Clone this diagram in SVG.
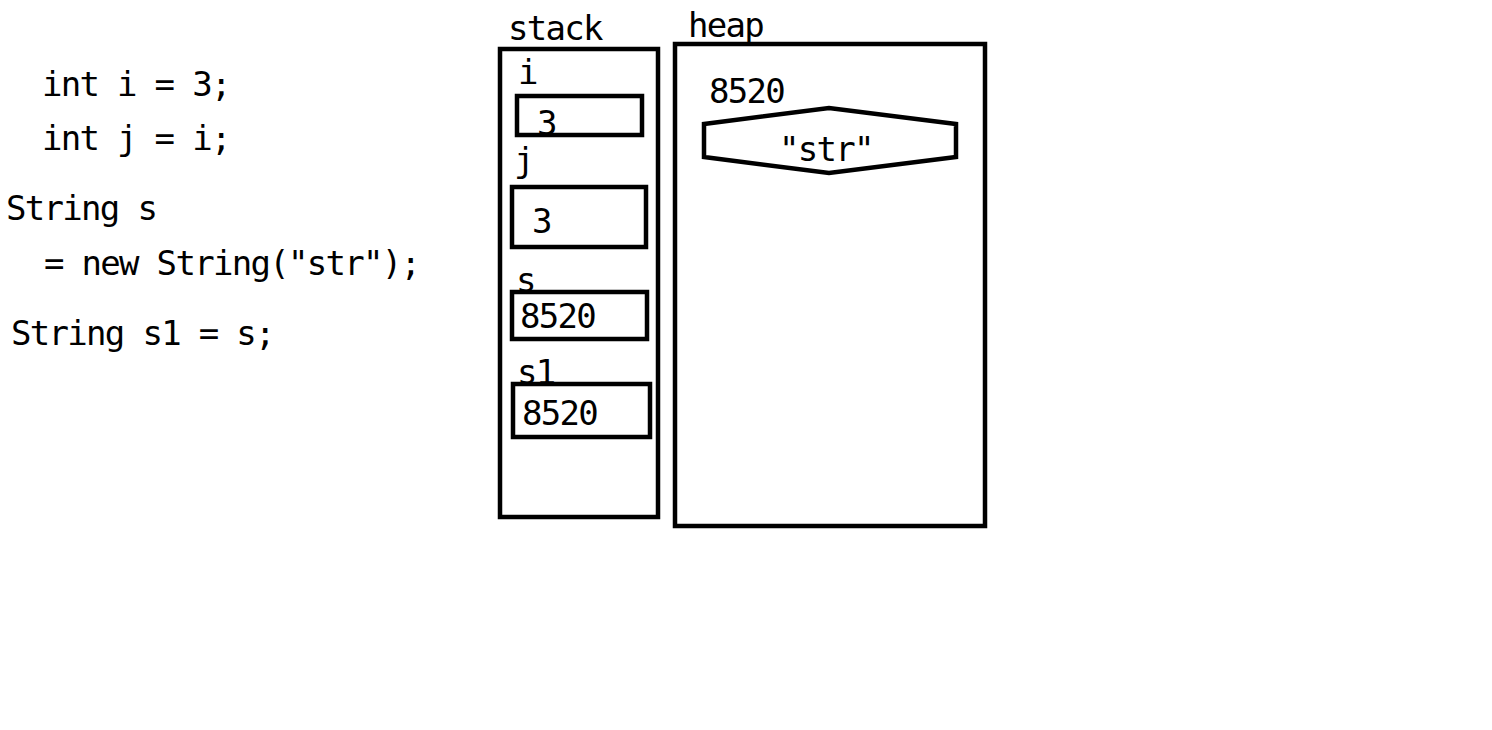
<svg xmlns="http://www.w3.org/2000/svg" width="1492" height="730" viewBox="0 0 1492 730">
<style>
text{font-family:"DejaVu Sans Mono","Liberation Mono",monospace;font-size:34px;letter-spacing:-1.7px;fill:#000}
.b{fill:none;stroke:#000;stroke-width:4.5}
</style>
<rect width="1492" height="730" fill="#fff"/>
<g id="code">
<text x="42" y="96">int i = 3;</text>
<text x="42" y="150">int j = i;</text>
<text x="6" y="220">String s</text>
<text x="44" y="275">= new String("str");</text>
<text x="11" y="345">String s1 = s;</text>
</g>
<g id="stack">
<text x="508" y="40">stack</text>
<rect class="b" x="500" y="49" width="158" height="468"/>
</g>
<g id="var-i">
<text x="518" y="84">i</text>
<text x="537" y="135">3</text>
<rect class="b" x="517" y="96" width="125" height="39"/>
</g>
<g id="var-j">
<text x="514" y="172">j</text>
<text x="532" y="233">3</text>
<rect class="b" x="512" y="187" width="134" height="60"/>
</g>
<g id="var-s">
<text x="516" y="292">s</text>
<rect class="b" x="512" y="292" width="135" height="47"/>
<text x="520" y="328">8520</text>
</g>
<g id="var-s1">
<text x="517" y="384">s1</text>
<rect class="b" x="513" y="384" width="137" height="53"/>
<text x="522" y="425">8520</text>
</g>
<g id="heap">
<text x="688" y="37">heap</text>
<rect class="b" x="675" y="44" width="310" height="482"/>
</g>
<g id="str-object">
<text x="709" y="103">8520</text>
<polygon class="b" points="704,124 829,108 956,124 956,157 829,173 704,157"/>
<text x="779" y="161">"str"</text>
</g>
<g id="connectors"></g>
</svg>
